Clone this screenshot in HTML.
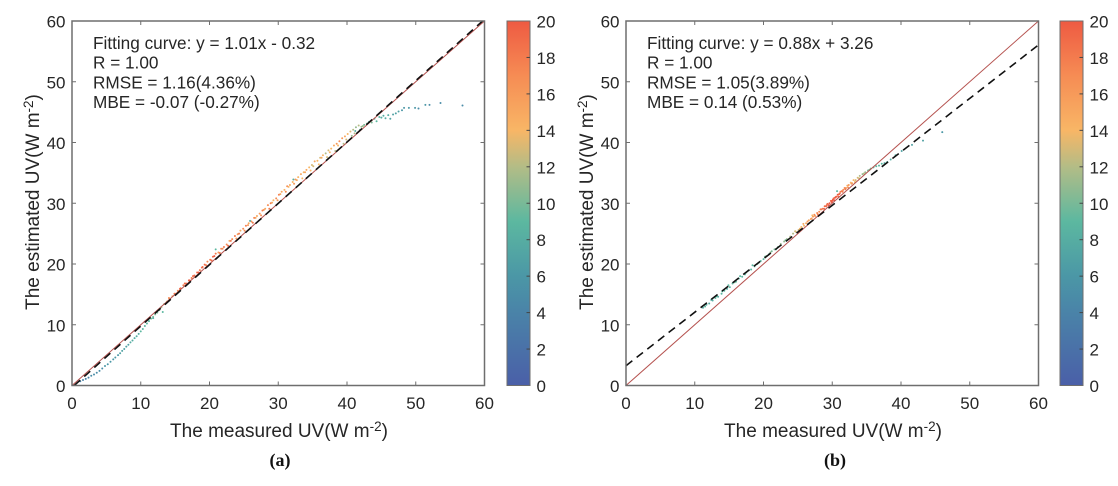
<!DOCTYPE html>
<html>
<head>
<meta charset="utf-8">
<style>
html,body{margin:0;padding:0;background:#fff;width:1118px;height:486px;overflow:hidden}
svg{display:block}
text{font-family:"Liberation Sans",sans-serif;fill:#262626}
</style>
</head>
<body>
<svg id="chart" width="1118" height="486" viewBox="0 0 1118 486" xmlns="http://www.w3.org/2000/svg">
<defs>
<linearGradient id="cbGrad" x1="0" y1="1" x2="0" y2="0">
<stop offset="0" stop-color="#4a5fa8"/>
<stop offset="0.2" stop-color="#4a83a8"/>
<stop offset="0.3" stop-color="#4b97a6"/>
<stop offset="0.45" stop-color="#5cb8a0"/>
<stop offset="0.6" stop-color="#b3bc86"/>
<stop offset="0.7" stop-color="#f8b666"/>
<stop offset="0.85" stop-color="#f68c54"/>
<stop offset="1" stop-color="#ee5a42"/>
</linearGradient>
</defs>
</svg>
<script>
var axisTicks = [0, 10, 20, 30, 40, 50, 60];
var colorTicks = [0, 2, 4, 6, 8, 10, 12, 14, 16, 18, 20];
var identityLine = [0, 60];
var fitA = [1.01, -0.32];
var fitB = [0.88, 3.26];
var textA = ["Fitting curve: y = 1.01x - 0.32", "R = 1.00", "RMSE = 1.16(4.36%)", "MBE = -0.07 (-0.27%)"];
var textB = ["Fitting curve: y = 0.88x + 3.26", "R = 1.00", "RMSE = 1.05(3.89%)", "MBE = 0.14 (0.53%)"];

var measuredA = [1.2,1.6,2,2.4,2.8,3.2,3.6,4,4.4,4.8,5.2,5.6,6,6.3,6.7,7,7.3,7.6,7.9,8.2,8.5,8.8,9.1,9.4,9.7,10,10.3,10.6,10.9,11.2,11.5,11.8,12.1,12.4,12.7,13,13.4,13.8,14.2,14.6,15,15.4,15.8,16.2,16.6,17,17.4,17.8,18.2,18.6,19,19.3,19.7,20.1,20.5,20.9,21.3,21.7,22.1,22.5,22.9,23.3,23.7,24.1,24.5,24.9,25.3,25.7,26.1,26.5,26.9,27.3,27.7,28.1,28.5,28.9,29.3,29.7,30.1,30.5,30.9,31.3,31.7,32.1,32.5,32.9,33.3,33.7,34.1,34.5,34.9,35.3,35.7,36.1,36.5,36.9,37.3,37.7,38.1,38.5,38.9,39.3,39.7,40.1,40.5,40.9,41.3,41.7,42.1,42.5,42.9,43.2,43.6,44,44.3,44.7,45,45.3,45.6,46,46.3,46.7,47.1,47.5,48,48.3,49,49.9,51.4,53.6,56.8,20.9,25.9,32.2,41.2,13.2,11.8,14.1,14.9,15.7,16.4,17.1,17.6,18.4,18.9,19.5,20.3,20.7,21.5,21.9,22.7,23.1,23.9,24.3,25.1,25.6,26.3,26.7,27.5,27.9,28.7,29.1,29.9,30.3,31.1,31.5,32.3,32.7,33.5,33.9,34.7,35.1,35.9,36.3,37.1,37.5,38.3,38.7,39.5,39.9,40.7,41.1,41.9,42.3,52,50.4];
var estimatedA = [0.7,0.9,1.1,1.3,1.6,1.8,2.1,2.4,2.8,3.2,3.5,3.9,4.3,4.6,5,5.3,5.7,6,6.4,6.7,7.1,7.4,7.8,8.1,8.5,8.9,9.3,9.8,10.2,10.6,11,11.3,11.7,12,12.4,12.9,13.4,13.8,14.2,14.7,15.1,15.6,16,16.5,16.8,17.3,17.7,18.1,18.6,19,19.5,19.9,20.4,20.7,21.2,21.7,21.9,22.5,22.8,23.2,23.8,24.1,24.6,24.9,25.5,25.8,26.3,26.7,27,27.6,27.9,28.3,28.8,29.1,29.7,30,30.5,30.8,31.4,31.9,32.2,32.8,33,33.5,33.9,34.3,34.8,35.1,35.5,35.9,36.3,36.9,37,37.5,37.9,38.2,38.7,39,39.5,39.8,40.2,40.7,41,41.4,41.8,42.1,42.5,42.8,42.6,42.9,43.1,43.4,43.3,43.9,43.5,44.2,44.1,44.4,44,44.5,43.9,44.6,44.8,45.1,45.3,45.7,45.7,45.7,46.2,46.5,46.1,22.4,27.1,33.9,41.9,12.1,11.1,14.4,15.1,15.9,16.8,17.3,18,18.6,19.4,19.8,20.6,21.3,21.8,22.5,23,23.8,24.2,25,25.5,26.4,26.8,27.6,28,28.9,29.1,30.1,30.5,31.5,31.9,32.7,33.2,33.8,34.1,35.1,35.4,36.1,36.4,37.5,37.6,38.4,38.6,39.5,39.8,40.5,41.1,41.5,42.1,42.7,46.2,45.6];
var densityA = [4,4,4,4,5,5,5,5,5,6,6,6,6,6,6,7,7,7,7,7,8,8,8,8,8,9,9,9,9,9,10,10,10,10,11,11,12,13,14,15,16,17,18,18,19,19,18,19,19,18,19,19,17,18,19,18,16,17,18,17,15,17,18,16,15,17,18,15,17,18,15,16,18,15,17,18,14,17,18,15,14,17,15,14,16,14,15,14,15,14,13,15,14,13,14,12,13,14,15,16,17,16,15,14,13,12,11,12,11,10,10,9,10,9,9,9,8,8,8,8,7,7,7,7,6,6,6,6,6,5,5,9,8,8,8,9,8,17,18,19,19,20,19,20,19,18,19,20,18,17,19,18,16,18,17,16,18,15,17,16,18,15,16,15,17,14,16,15,14,15,14,13,14,15,13,14,12,14,12,13,11,12,10,11,5,5];

var measuredB = [11.2,11.7,12.1,12.6,13,13.4,13.9,14.3,14.7,15.1,15.5,16,16.4,16.9,17.3,17.8,18.2,18.7,19.1,19.6,20,20.4,20.8,21.2,21.6,22.1,22.5,23,23.4,23.9,24.3,24.7,25.1,25.5,25.9,26.2,26.6,26.9,27.2,27.5,27.8,28.1,28.4,28.6,28.9,29.1,29.3,29.6,29.8,30,30.2,30.4,30.6,30.8,31,31.2,31.4,31.6,31.8,32,32.2,32.4,32.7,32.9,33.1,33.4,33.7,34,34.4,34.8,35.2,35.6,36,36.4,36.8,37.2,37.6,38,38.5,39.2,40.1,41.6,43.2,46,30.7,21.8,23.2,27.1,11.5,12.4,13.2,14,14.9,15.8,16.6,17.5,18.4,19.3,20.2,21,24.6,25.3,25.8,26.4,27,27.4,27.9,28.3,28.8,29.2,29.5,29.9,30.1,30.3,30.5,30.9,31.1,31.5,31.9,32.3,32.8,33.3,33.9,34.6,35.4];
var estimatedB = [12.8,13.3,13.5,14,14.4,14.6,15.1,15.6,15.9,16.2,16.8,17.1,17.6,17.9,18.3,18.9,19.1,19.6,20,20.5,20.8,21.3,21.6,22.1,22.4,22.8,23.3,23.7,24.1,24.5,25,25.3,25.6,26.1,26.3,26.7,27.2,27.4,27.8,27.9,28.4,28.6,29,29.1,29.5,29.5,29.9,30,30.4,30.4,30.8,30.9,31.1,31.4,31.5,31.9,32,32.2,32.5,32.5,32.9,33,33.4,33.3,33.8,33.8,34.2,34.5,34.8,35.1,35.4,35.7,35.9,36.1,36.2,36.5,36.6,36.8,37.2,37.9,38.6,39.6,40.3,41.7,32,22.4,23.9,28,13,14.1,14.7,15.5,16.5,17,18,18.6,19.8,20.2,21.2,21.9,25.4,25.8,26.6,27,27.5,28.1,28.2,29,29.1,29.7,29.7,30.2,30.6,30.5,31,31.1,31.6,31.9,32.3,32.6,33.2,33.5,34.1,34.9,35.5];
var densityB = [8,8,8,8,9,8,9,9,8,9,9,9,8,9,9,9,9,9,10,9,9,10,9,10,10,10,11,11,11,12,12,13,13,14,14,15,15,16,16,16,17,17,18,18,19,19,19,20,19,20,19,20,19,20,19,18,18,17,17,16,15,16,14,15,14,13,13,12,11,11,10,10,9,9,9,9,8,8,8,8,7,7,7,6,9,9,10,14,9,8,9,9,9,10,9,10,9,10,10,11,13,14,15,16,16,17,18,18,19,19,20,20,20,20,20,19,19,18,18,17,16,14,13,12,10];

var colorStops = [[0,74,95,168],[4,74,131,168],[6,75,151,166],[9,92,184,160],[12,179,188,134],[14,248,182,102],[17,246,140,84],[20,238,90,66]];
var NS = "http://www.w3.org/2000/svg";
var svg = document.getElementById("chart");

function colorOf(v){
  var i;
  for(i = 1; i < colorStops.length; i++){
    if(v <= colorStops[i][0]){
      var a = colorStops[i-1], b = colorStops[i], t = (v-a[0])/(b[0]-a[0]);
      return "rgb("+Math.round(a[1]+(b[1]-a[1])*t)+","+Math.round(a[2]+(b[2]-a[2])*t)+","+Math.round(a[3]+(b[3]-a[3])*t)+")";
    }
  }
  return "rgb(238,90,66)";
}
function make(tag, attrs, parent, txt){
  var el = document.createElementNS(NS, tag);
  for(var k in attrs){ el.setAttribute(k, attrs[k]); }
  if(txt !== undefined){ el.textContent = txt; }
  (parent || svg).appendChild(el);
  return el;
}
function addTitle(parent, x, y, rot, label){
  var t = make("text", {x:x, y:y, "font-size":19, "text-anchor":"middle"}, parent);
  if(rot){ t.setAttribute("transform", "rotate(-90 "+x+" "+y+")"); }
  
  
  t.appendChild(document.createTextNode(label+"(W m"));
  make("tspan", {dy:-6, "font-size":13.5}, t, "-2");
  make("tspan", {dy:6}, t, ")");
  return t;
}
function drawPanel(cfg){
  var g = make("g", {}, svg);
  
  
  var x0 = cfg.left, x1 = cfg.left + 412.5, y0 = 385.5, y1 = 21;
  function sx(v){ return x0 + (v/60)*(x1-x0); }
  function sy(v){ return y0 - (v/60)*(y0-y1); }

  var pts = make("g", {}, g);
  
  
  cfg.mx.forEach(function(m, i){
    var c = make("circle", {cx:sx(m).toFixed(2), cy:sy(cfg.my[i]).toFixed(2), r:1, fill:colorOf(cfg.d[i])}, pts);
    
    
  });

  var ref = make("line", {x1:sx(identityLine[0]), y1:sy(identityLine[0]), x2:sx(identityLine[1]), y2:sy(identityLine[1]), stroke:"#b5524f", "stroke-width":1}, g);
  
  

  var xs = Math.max(0, -cfg.fit[1]/cfg.fit[0]);
  var xe = Math.min(60, (60-cfg.fit[1])/cfg.fit[0]);
  var fit = make("line", {x1:sx(xs), y1:sy(cfg.fit[0]*xs+cfg.fit[1]), x2:sx(xe), y2:sy(cfg.fit[0]*xe+cfg.fit[1]), stroke:"#111", "stroke-width":1.6, "stroke-dasharray":"8 5.5"}, g);
  
  

  var box = make("rect", {x:x0, y:y1, width:x1-x0, height:y0-y1, fill:"none", stroke:"#6e6e6e", "stroke-width":1.5}, g);
  
  

  axisTicks.forEach(function(v){
    var d = "M"+sx(v)+" "+y0+"v-4M"+sx(v)+" "+y1+"v4M"+x0+" "+sy(v)+"h4M"+x1+" "+sy(v)+"h-4";
    var tk = make("path", {d:d, stroke:"#6e6e6e", "stroke-width":1, fill:"none"}, g);
    
    
    var tx = make("text", {x:sx(v), y:409, "font-size":17, "text-anchor":"middle"}, g, String(v));
    
    
    var ty = make("text", {x:x0-6.5, y:sy(v)+6.5, "font-size":17, "text-anchor":"end"}, g, String(v));
    
    
  });

  addTitle(g, cfg.xTitleX, 437, false, "The measured UV");
  addTitle(g, cfg.yTitleX, 202, true, "The estimated UV");

  cfg.text.forEach(function(line, i){
    var s = make("text", {x:x0+21, y:49+i*19.7, "font-size":17.2}, g, line);
    
    
  });

  var bar = make("rect", {x:cfg.barX, y:y1, width:23, height:y0-y1, fill:"url(#cbGrad)", stroke:"#6e6e6e", "stroke-width":1}, g);
  
  
  colorTicks.forEach(function(v){
    var cy = y0 - (v/20)*(y0-y1);
    if(v > 0 && v < 20){
      var ct = make("line", {x1:cfg.barX+23, y1:cy, x2:cfg.barX+19.5, y2:cy, stroke:"#444", "stroke-width":1}, g);
      
      
    }
    var cl = make("text", {x:cfg.barX+29.5, y:cy+6.5, "font-size":17}, g, String(v));
    
    
  });

  var cap = make("text", {x:cfg.capX, y:466, "font-size":18, "font-weight":"bold", "text-anchor":"middle", style:"font-family:'Liberation Serif',serif;fill:#111"}, g, cfg.cap);
  
  
}

drawPanel({name:"panel-a", left:72, mx:measuredA, my:estimatedA, d:densityA, fit:fitA, text:textA, barX:507, cap:"(a)", capX:280, xTitleX:279, yTitleX:39});
drawPanel({name:"panel-b", left:626, mx:measuredB, my:estimatedB, d:densityB, fit:fitB, text:textB, barX:1060, cap:"(b)", capX:835, xTitleX:833, yTitleX:593});
</script>
</body>
</html>
